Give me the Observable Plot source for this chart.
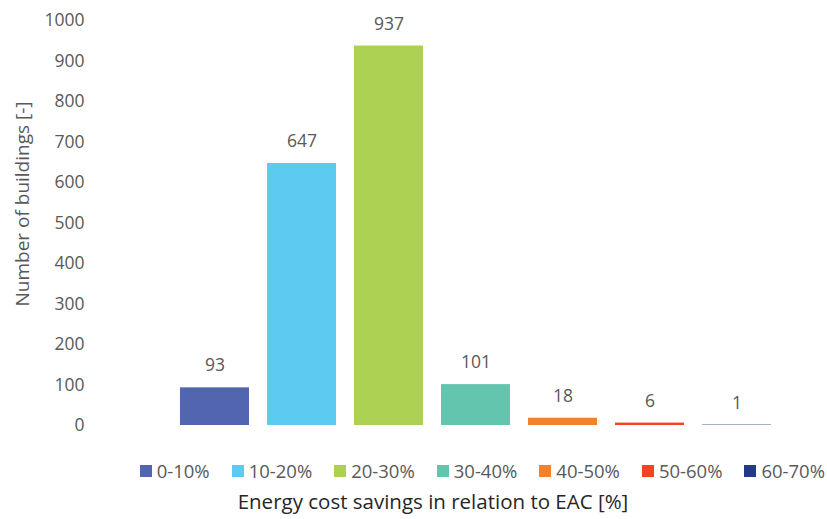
<!DOCTYPE html>
<html>
<head>
<meta charset="utf-8">
<script src="https://cdn.jsdelivr.net/npm/d3@7"></script>
<script src="https://cdn.jsdelivr.net/npm/@observablehq/plot@0.6"></script>
<style>
  html, body { margin: 0; padding: 0; background: #fff; }
  body { width: 827px; height: 519px; overflow: hidden; font-family: "Open Sans", sans-serif; }
  #legend { position: absolute; top: 458px; left: 0; width: 827px; display: flex; justify-content: flex-end; padding-right: 2px; box-sizing: border-box; gap: 22px; font-size: 18.5px; color: #595959; }
  #legend .item { display: flex; align-items: center; }
  #legend .sw { width: 12px; height: 12px; margin-right: 5px; display: inline-block; }
  #xtitle { position: absolute; top: 487px; left: 0; width: 866px; text-align: center; font-size: 20.5px; color: #262626; }
  #chart { position: absolute; top: 0; left: 0; }
</style>
</head>
<body>
<div id="chart"></div>
<div id="legend"></div>
<div id="xtitle">Energy cost savings in relation to EAC [%]</div>
<script>
const categories = ["0-10%", "10-20%", "20-30%", "30-40%", "40-50%", "50-60%", "60-70%"];
const counts = [93, 647, 937, 101, 18, 6, 1];
const colors = ["#5266B0", "#5BCBF2", "#ADD152", "#64C5AE", "#F58229", "#F04524", "#253A84"];
const yTicks = [0, 100, 200, 300, 400, 500, 600, 700, 800, 900, 1000];

const data = categories.map((c, i) => ({category: c, count: counts[i]}));

const chart = Plot.plot({
  width: 827,
  height: 445,
  marginLeft: 92,
  marginRight: 47,
  marginTop: 20,
  marginBottom: 20,
  style: {fontFamily: "Open Sans, sans-serif", fontSize: "17.5px", color: "#595959", background: "#fff"},
  x: {domain: categories, insetLeft: 79, paddingInner: 0.21, paddingOuter: 0.105, axis: null},
  y: {domain: [0, 1000], ticks: yTicks},
  color: {domain: categories, range: colors},
  marks: [
    Plot.axisY({ticks: yTicks, tickFormat: d => String(d), tickSize: 0, tickPadding: 8, label: null, fill: "#595959", fontSize: 17.5}),
    Plot.text(["Number of buildings [-]"], {frameAnchor: "left", textAnchor: "middle", dx: -70, dy: -19, rotate: -90, fill: "#595959", fontSize: 19}),
    Plot.barY(data, {x: "category", y: "count", fill: "category"}),
    Plot.text(data, {x: "category", y: "count", text: d => String(d.count), dy: -22, fill: "#595959", fontSize: 17.5})
  ]
});
document.getElementById("chart").appendChild(chart);

const legend = document.getElementById("legend");
categories.forEach((c, i) => {
  const item = document.createElement("div");
  item.className = "item";
  const sw = document.createElement("span");
  sw.className = "sw";
  sw.style.background = colors[i];
  item.appendChild(sw);
  item.appendChild(document.createTextNode(c));
  legend.appendChild(item);
});
</script>
</body>
</html>
